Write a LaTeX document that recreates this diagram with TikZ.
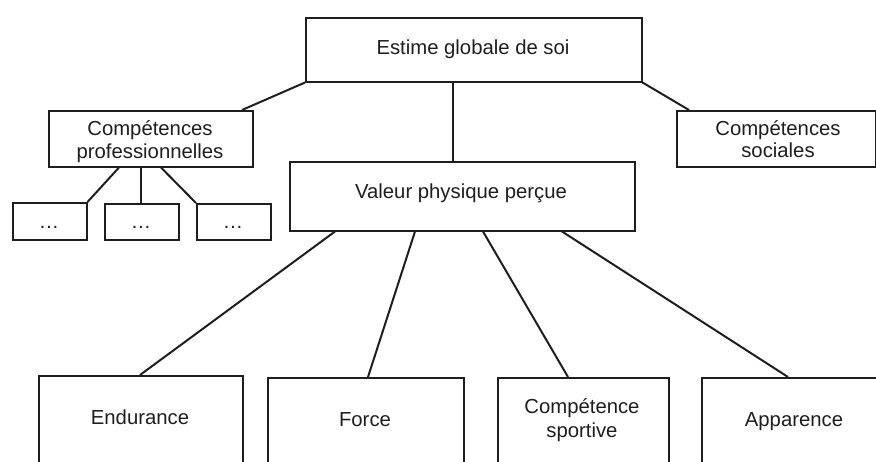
\documentclass[tikz,border=0pt]{standalone}
\usepackage{fontspec}
\setmainfont{Liberation Sans}
\definecolor{ink}{HTML}{1E1E1E}
\begin{document}
\begin{tikzpicture}[x=1pt,y=-1pt,
  box/.style={draw=ink,line width=1.5pt,rectangle,inner sep=0pt,anchor=north west},
  link/.style={draw=ink,line width=2pt},
  txt/.style={anchor=base,inner sep=0pt,text=ink,font=\fontsize{20.3}{23}\selectfont}]
\useasboundingbox (0,0) rectangle (876,461);
\clip (0,0) rectangle (876,461);
% boxes
\node[box,minimum width=336pt,minimum height=64pt] (estime) at (305,17) {};
\node[box,minimum width=204pt,minimum height=56pt] (prof) at (48,110) {};
\node[box,minimum width=74pt,minimum height=37pt] (d1) at (12,202) {};
\node[box,minimum width=74pt,minimum height=36pt] (d2) at (104,203) {};
\node[box,minimum width=74pt,minimum height=36pt] (d3) at (196,203) {};
\node[box,minimum width=345pt,minimum height=69pt] (valeur) at (289,161) {};
\node[box,minimum width=199pt,minimum height=56pt] (soc) at (676,110) {};
\node[box,minimum width=204pt,minimum height=110pt] (endur) at (38,375) {};
\node[box,minimum width=196pt,minimum height=110pt] (force) at (267,377) {};
\node[box,minimum width=171pt,minimum height=110pt] (sport) at (497,377) {};
\node[box,minimum width=186pt,minimum height=110pt] (appar) at (701,377) {};
% texts
\node[txt] (testime) at (473,54) {Estime globale de soi};
\node[txt] (tprof1) at (150,135) {Compétences};
\node[txt] (tprof2) at (150,158) {professionnelles};
\node[txt] (td1) at (49,228) {…};
\node[txt] (td2) at (141,228) {…};
\node[txt] (td3) at (233,228) {…};
\node[txt] (tvaleur) at (461,198) {Valeur physique perçue};
\node[txt] (tsoc1) at (778,135) {Compétences};
\node[txt] (tsoc2) at (778,157) {sociales};
\node[txt] (tendur) at (140,424) {Endurance};
\node[txt] (tforce) at (365,426) {Force};
\node[txt] (tsport1) at (582,413) {Compétence};
\node[txt] (tsport2) at (582,437) {sportive};
\node[txt] (tappar) at (794,426) {Apparence};
% connectors
\draw[link] (estime.south west) -- ([xshift=194pt]prof.north west);
\draw[link] ([xshift=148pt]estime.south west) -- ([xshift=164pt]valeur.north west);
\draw[link] (estime.south east) -- ([xshift=13pt]soc.north west);
\draw[link] ([xshift=71pt]prof.south west) -- (d1.north east);
\draw[link] ([xshift=93pt]prof.south west) -- ([xshift=37pt]d2.north west);
\draw[link] ([xshift=113pt]prof.south west) -- (d3.north west);
\draw[link] ([xshift=46pt]valeur.south west) -- ([xshift=102pt]endur.north west);
\draw[link] ([xshift=126pt]valeur.south west) -- ([xshift=101pt]force.north west);
\draw[link] ([xshift=194pt]valeur.south west) -- ([xshift=71pt]sport.north west);
\draw[link] ([xshift=273pt]valeur.south west) -- ([xshift=87pt]appar.north west);
\end{tikzpicture}
\end{document}
